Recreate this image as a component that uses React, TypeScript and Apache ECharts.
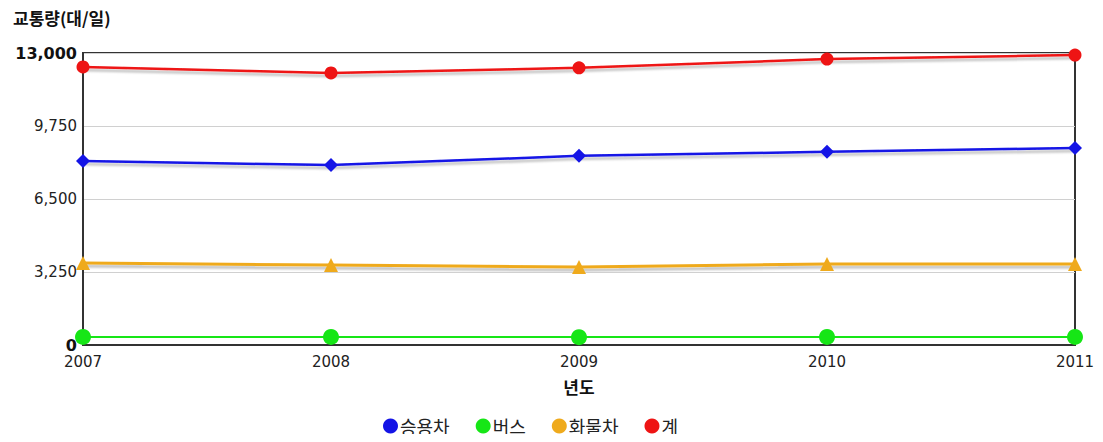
import React, { useEffect, useRef } from "react";
import * as echarts from "echarts";

const years = ["2007", "2008", "2009", "2010", "2011"];
const passengerCars = [8190, 8010, 8420, 8600, 8770];
const buses = [360, 360, 350, 360, 360];
const trucks = [3650, 3560, 3470, 3610, 3610];
const totals = [12380, 12110, 12340, 12730, 12910];
const yTicks = [0, 3250, 6500, 9750, 13000];

const FONT = "'DejaVu Sans', 'Noto Sans CJK KR', sans-serif";
const KFONT = "'Noto Sans CJK KR', 'DejaVu Sans', sans-serif";

export default function App() {
  const ref = useRef<HTMLDivElement>(null);
  useEffect(() => {
    if (!ref.current) return;
    const chart = echarts.init(ref.current, undefined, { renderer: "svg" });
    const shadow = {
      shadowColor: "rgba(0,0,0,0.25)",
      shadowOffsetY: 3,
      shadowBlur: 2,
    };
    const mk = (name: string, data: number[], color: string, symbol: string, size: number, width: number) => ({
      name,
      type: "line",
      data,
      symbol,
      symbolSize: size,
      itemStyle: { color },
      lineStyle: { color, width, ...shadow },
    });
    chart.setOption({
      animation: false,
      title: {
        text: "교통량(대/일)",
        left: 8,
        top: 4,
        textStyle: { fontFamily: KFONT, fontSize: 17, fontWeight: "bold", color: "#111" },
      },
      legend: {
        bottom: 2,
        left: 378,
        icon: "circle",
        itemWidth: 15,
        itemHeight: 15,
        itemGap: 26,
        textStyle: { fontFamily: KFONT, fontSize: 18, color: "#222", padding: [0, 0, 0, -3] },
        data: ["승용차", "버스", "화물차", "계"],
      },
      grid: {
        left: 83,
        right: 28,
        top: 53,
        bottom: 97,
        show: true,
        borderColor: "#333",
        borderWidth: 2,
      },
      xAxis: {
        type: "category",
        data: years,
        boundaryGap: false,
        name: "년도",
        nameLocation: "middle",
        nameGap: 33,
        nameTextStyle: { fontFamily: KFONT, fontSize: 17, fontWeight: "bold", color: "#111" },
        axisLine: { lineStyle: { color: "#333", width: 2 } },
        axisTick: { show: false },
        axisLabel: { fontFamily: FONT, fontSize: 15, color: "#222", margin: 9 },
        splitLine: { show: false },
      },
      yAxis: {
        type: "value",
        min: yTicks[0],
        max: yTicks[yTicks.length - 1],
        interval: yTicks[1] - yTicks[0],
        axisLine: { show: true, lineStyle: { color: "#333", width: 2 } },
        axisTick: { show: false },
        axisLabel: {
          fontFamily: FONT,
          fontSize: 15,
          color: "#222",
          margin: 6,
          formatter: (v: number) => {
            const s = v.toLocaleString("en-US");
            return v === yTicks[0] || v === yTicks[yTicks.length - 1] ? `{b|${s}}` : s;
          },
          rich: {
            b: { fontFamily: FONT, fontSize: 16, fontWeight: "bold", color: "#111" },
          },
        },
        splitLine: { show: true, lineStyle: { color: "#d0d0d0", width: 1 } },
      },
      series: [
        mk("승용차", passengerCars, "#1414e6", "diamond", 14, 2.5),
        mk("버스", buses, "#16e616", "circle", 16, 3),
        mk("화물차", trucks, "#efaa1c", "triangle", 14, 3),
        mk("계", totals, "#ee1414", "circle", 13, 2.5),
      ],
    });
    return () => chart.dispose();
  }, []);
  return <div ref={ref} style={{ width: 1103, height: 442, margin: -8 }} />;
}
